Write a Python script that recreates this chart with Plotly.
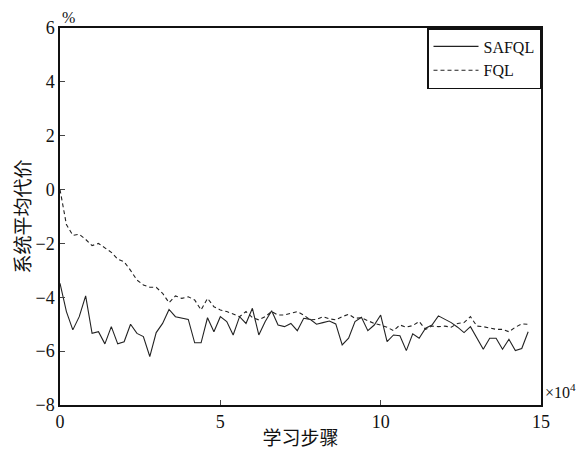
import numpy as np
import plotly.graph_objects as go

steps = [round(i * 0.2, 1) for i in range(74)]  # x in units of 10^4

safql = [-3.48, -4.53, -5.21, -4.72, -3.95, -5.34, -5.28, -5.73, -5.09, -5.73,
         -5.65, -5.00, -5.34, -5.46, -6.20, -5.31, -4.97, -4.45, -4.72, -4.78,
         -4.82, -5.69, -5.69, -4.76, -5.28, -4.72, -4.90, -5.40, -4.72, -4.97,
         -4.41, -5.40, -4.90, -4.50, -5.03, -5.09, -4.97, -5.24, -4.78, -4.82,
         -5.00, -4.94, -4.88, -4.99, -5.77, -5.52, -4.90, -4.74, -5.24, -5.03,
         -4.66, -5.65, -5.40, -5.43, -5.98, -5.36, -5.52, -5.15, -5.03, -4.69,
         -4.82, -4.94, -5.11, -5.31, -5.09, -5.52, -5.93, -5.52, -5.52, -5.93,
         -5.56, -5.98, -5.90, -5.28]

fql = [0.00, -1.30, -1.70, -1.66, -1.85, -2.08, -2.00, -2.17, -2.33, -2.58,
       -2.68, -3.00, -3.36, -3.54, -3.63, -3.63, -3.85, -4.20, -3.95, -4.04,
       -3.98, -4.10, -4.47, -4.04, -4.35, -4.47, -4.53, -4.62, -4.72, -4.53,
       -4.75, -4.84, -4.72, -4.53, -4.66, -4.66, -4.60, -4.53, -4.66, -4.84,
       -4.82, -4.72, -4.80, -4.84, -4.72, -4.63, -4.78, -4.76, -4.87, -4.97,
       -5.03, -5.11, -5.24, -5.03, -5.11, -5.05, -4.90, -5.19, -5.07, -5.09,
       -5.07, -5.11, -4.97, -4.94, -4.72, -5.07, -5.09, -5.15, -5.19, -5.19,
       -5.28, -5.11, -4.99, -5.00]

x_ticks = [0, 5, 10, 15]
y_ticks = [-8, -6, -4, -2, 0, 2, 4, 6]

serif = "Liberation Serif, Times New Roman, serif"
cjk = "Noto Sans CJK SC, sans-serif"

fig = go.Figure()
fig.add_trace(go.Scatter(x=steps, y=safql, mode="lines", name="SAFQL",
                         line=dict(color="#222222", width=1.1)))
fig.add_trace(go.Scatter(x=steps, y=fql, mode="lines", name="FQL",
                         line=dict(color="#222222", width=1.1, dash="4px,3px")))

# the page body adds an 8px offset, so the figure is sized 577x442
fig.update_layout(
    width=577, height=442,
    margin=dict(l=52, r=44, t=20, b=45, pad=0),
    paper_bgcolor="white", plot_bgcolor="white",
    font=dict(family=serif, size=18, color="#111111"),
    showlegend=True,
    legend=dict(x=1, y=1, xanchor="right", yanchor="top",
                bordercolor="#111111", borderwidth=1.5, bgcolor="white",
                font=dict(family=serif, size=16),
                tracegroupgap=0, itemwidth=45),
    xaxis=dict(range=[0, 15], tickvals=x_ticks, ticks="inside", ticklen=5,
               showline=True, linecolor="#111111", linewidth=1.5, mirror=True,
               showgrid=False, zeroline=False, automargin=False,
               title=dict(text="学习步骤", font=dict(family=cjk, size=19), standoff=8)),
    yaxis=dict(range=[-8, 6], tickvals=y_ticks, ticks="inside", ticklen=5,
               showline=True, linecolor="#111111", linewidth=1.5, mirror=True,
               showgrid=False, zeroline=False, automargin=False,
               title=dict(text="系统平均代价", font=dict(family=cjk, size=19), standoff=4)),
    annotations=[
        dict(text="%", x=0, y=1, xref="paper", yref="paper", xanchor="left",
             yanchor="bottom", showarrow=False,
             font=dict(family=serif, size=16)),
        dict(text="×10<sup>4</sup>", x=1, y=0, xref="paper", yref="paper",
             xanchor="left", yanchor="bottom", showarrow=False, xshift=2, yshift=2,
             font=dict(family=serif, size=16)),
    ],
)

fig.write_html("out.html")
